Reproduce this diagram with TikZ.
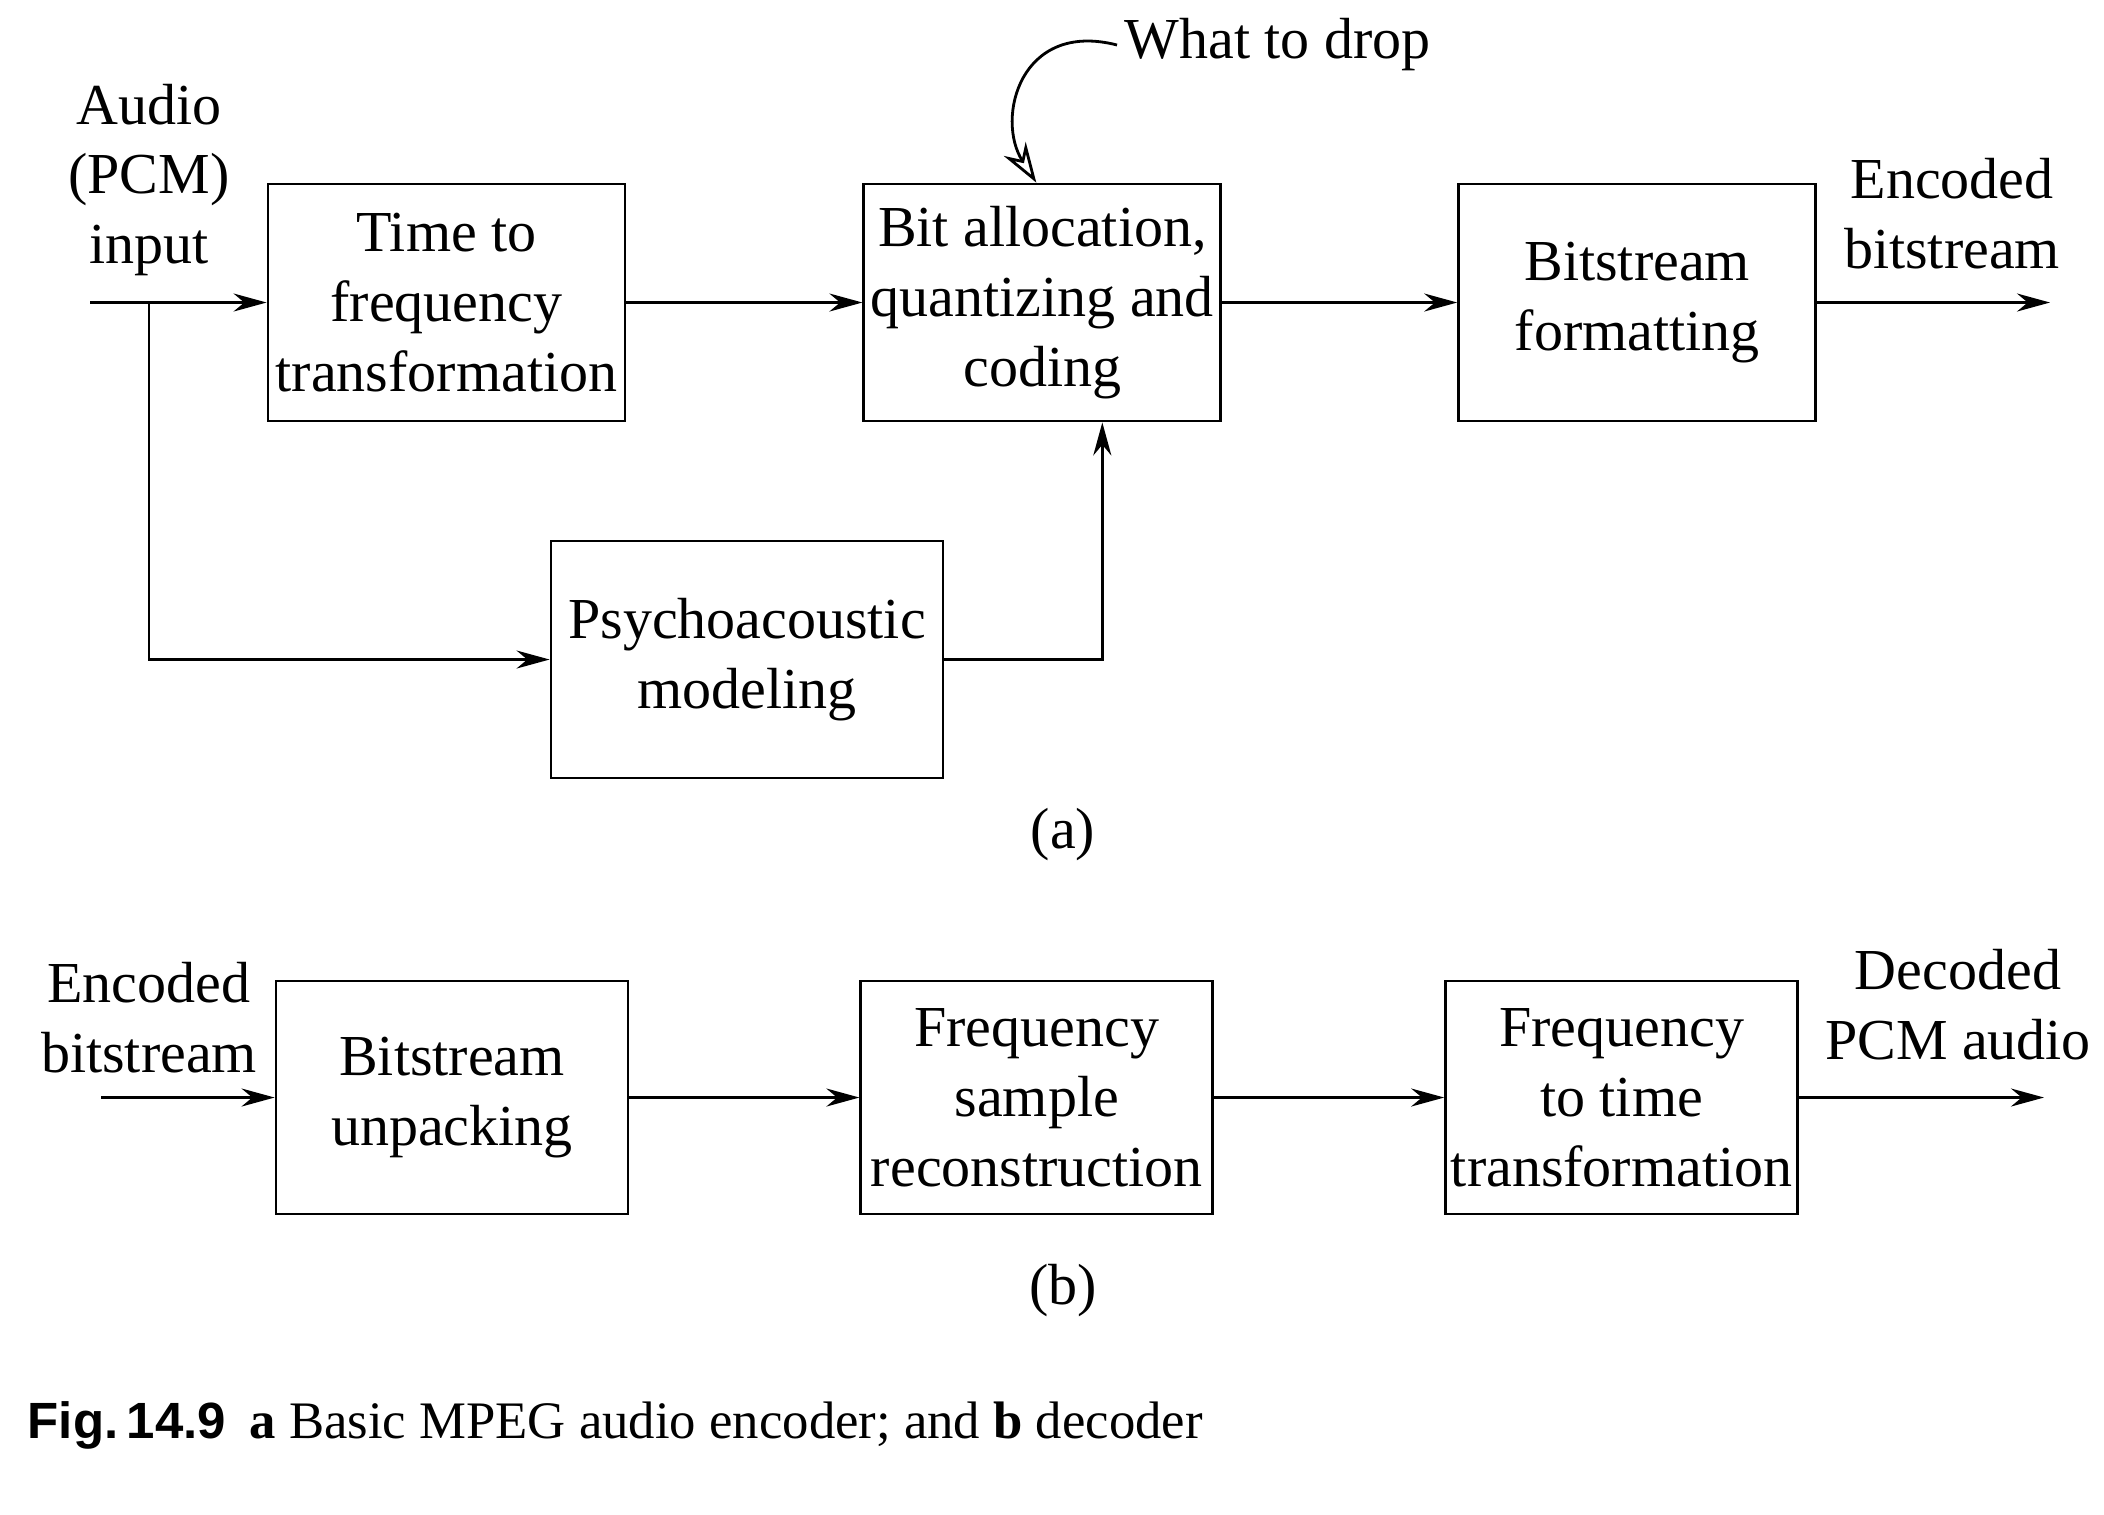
\documentclass[tikz,border=0pt]{standalone}
\usepackage{fontspec}
\setmainfont{Liberation Serif}
\newfontfamily\captionsans{Liberation Sans}
\usetikzlibrary{positioning,arrows.meta}
\tikzset{
  bloque/.style        = {draw, line width=0.8pt, align=center,
                          font=\fontsize{16.5}{19.9}\selectfont,
                          minimum width=3.57cm, minimum height=2.37cm, inner sep=1pt},
  bloqueb/.style       = {bloque, minimum width=3.52cm, minimum height=2.33cm},
  etiqueta/.style      = {align=center, font=\fontsize{16.5}{19.9}\selectfont, inner sep=1pt},
  flecha/.style        = {line width=0.8pt, -{Stealth[length=3.3mm, width=1.8mm]}},
  flechaabierta/.style = {line width=0.8pt, -{Stealth[open, length=4mm, width=2.6mm]}}
}

\begin{document}
\begin{tikzpicture}
    \useasboundingbox (0,0) rectangle (21.04,-15.14);

    % (a) encoder
    \node[bloque] (tf) at (4.465,-3.025) {Time to\\frequency\\transformation};
    \node[bloque, right=2.36cm of tf] (bit) {Bit allocation,\\quantizing and\\coding};
    \node[bloque, right=2.35cm of bit] (fmt) {Bitstream\\formatting};
    \node[bloque, minimum width=3.92cm] (psy) at (7.47,-6.595) {Psychoacoustic\\modeling};

    \node[etiqueta] (ain) at (1.49,-1.80) {Audio\\(PCM)\\input};
    \node[etiqueta] (aout) at (19.52,-2.14) {Encoded\\bitstream};
    \node[etiqueta, anchor=west, inner sep=2pt] (drop) at (11.17,-0.45) {What to drop};
    \node[etiqueta] (capa) at (10.63,-8.35) {(a)};

    \coordinate (ent) at (0.90,-3.025);
    \coordinate (rama) at (1.49,-3.025);
    \coordinate (sal) at (20.50,-3.025);

    \draw[flecha] (ent) -- (tf);
    \draw[flecha] (rama) |- (psy.west);
    \draw[flecha] (tf) -- (bit);
    \draw[flecha] (bit) -- (fmt);
    \draw[flecha] (fmt) -- (sal);
    \draw[flecha] (psy.east) -| ([xshift=0.6cm]bit.south);
    \draw[flechaabierta] (drop.west) .. controls +(-0.97,0.25) and +(-0.41,0.64) .. ([xshift=-0.6mm]bit.north);

    % (b) decoder
    \node[bloqueb] (unp) at (4.52,-10.975) {Bitstream\\unpacking};
    \node[bloqueb, right=2.30cm of unp] (rec) {Frequency\\sample\\reconstruction};
    \node[bloqueb, right=2.30cm of rec] (ft) {Frequency\\to time\\transformation};

    \node[etiqueta] (bin) at (1.49,-10.18) {Encoded\\bitstream};
    \node[etiqueta] (bout) at (19.58,-10.05) {Decoded\\PCM audio};
    \node[etiqueta] (capb) at (10.63,-12.91) {(b)};

    \coordinate (entb) at (1.01,-10.975);
    \coordinate (salb) at (20.44,-10.975);

    \draw[flecha] (entb) -- (unp);
    \draw[flecha] (unp) -- (rec);
    \draw[flecha] (rec) -- (ft);
    \draw[flecha] (ft) -- (salb);

    % caption
    \node[anchor=base west, inner sep=0pt, font=\fontsize{15}{18}\selectfont] (pie) at (0.27,-14.38)
      {{\captionsans\bfseries\fontsize{14.5}{18}\selectfont Fig.\,14.9}\hspace{0.45em}\textbf{a} Basic MPEG audio encoder; and \textbf{b} decoder};
\end{tikzpicture}
\end{document}
